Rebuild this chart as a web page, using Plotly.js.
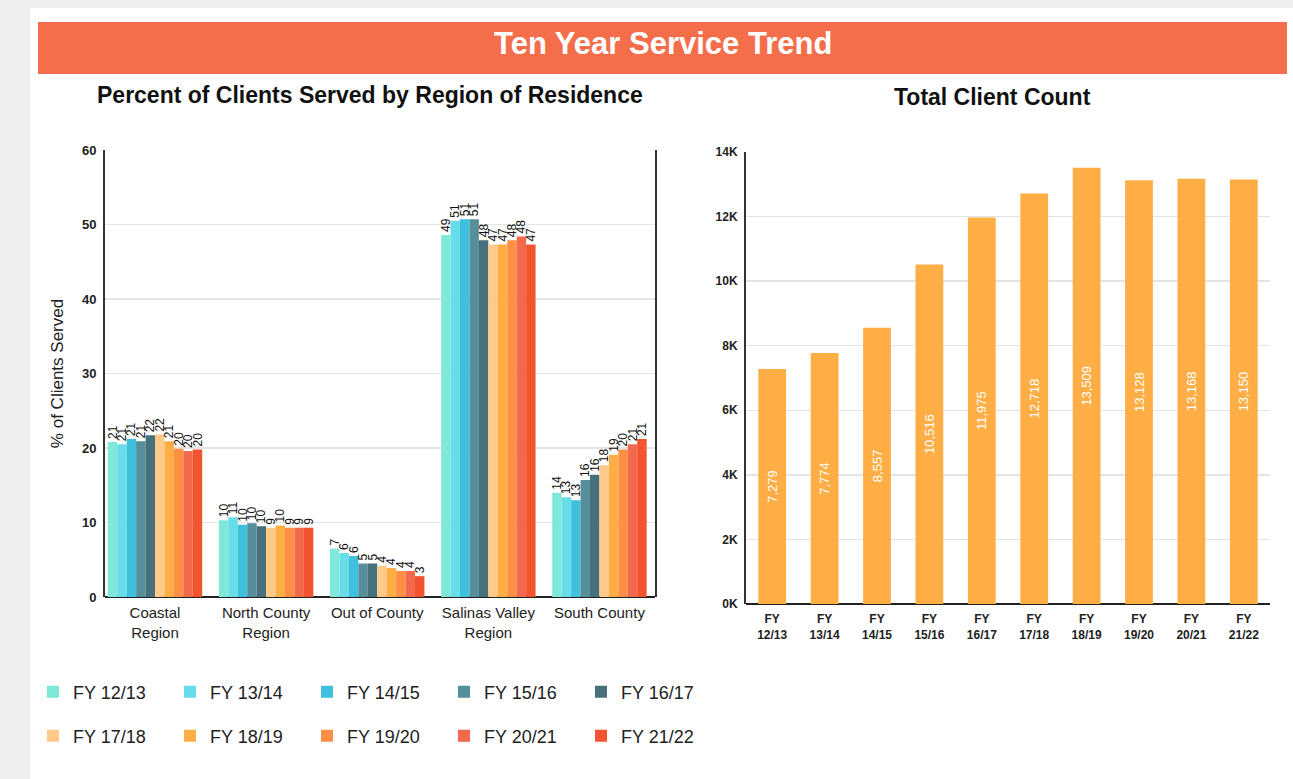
<!DOCTYPE html>
<html>
<head>
<meta charset="utf-8">
<script src="https://cdn.plot.ly/plotly-3.0.1.min.js"></script>
<style>
  html, body { margin: 0; padding: 0; background: #ffffff; }
  #chart { width: 1293px; height: 779px; }
</style>
</head>
<body>
<div id="chart"></div>
<script>
// ---- Data ----
const regions = ['Coastal<br>Region', 'North County<br>Region', 'Out of County', 'Salinas Valley<br>Region', 'South County'];
const fiscalYears = ['FY 12/13', 'FY 13/14', 'FY 14/15', 'FY 15/16', 'FY 16/17', 'FY 17/18', 'FY 18/19', 'FY 19/20', 'FY 20/21', 'FY 21/22'];
const fyTickLabels = ['FY<br>12/13', 'FY<br>13/14', 'FY<br>14/15', 'FY<br>15/16', 'FY<br>16/17', 'FY<br>17/18', 'FY<br>18/19', 'FY<br>19/20', 'FY<br>20/21', 'FY<br>21/22'];

const pct_FY1213 = [20.8, 10.3, 6.5, 48.6, 14.0];
const pct_FY1314 = [20.5, 10.7, 5.9, 50.5, 13.4];
const pct_FY1415 = [21.2, 9.7, 5.5, 50.7, 13.0];
const pct_FY1516 = [20.9, 9.9, 4.5, 50.7, 15.7];
const pct_FY1617 = [21.7, 9.5, 4.5, 47.9, 16.4];
const pct_FY1718 = [21.8, 9.3, 4.2, 47.3, 17.7];
const pct_FY1819 = [20.9, 9.6, 3.9, 47.3, 19.1];
const pct_FY1920 = [19.9, 9.3, 3.5, 47.9, 19.8];
const pct_FY2021 = [19.6, 9.3, 3.5, 48.4, 20.5];
const pct_FY2122 = [19.8, 9.3, 2.8, 47.3, 21.2];

const totalClients = [7279, 7774, 8557, 10516, 11975, 12718, 13509, 13128, 13168, 13150];

const countTickVals = [0, 2000, 4000, 6000, 8000, 10000, 12000, 14000];
const countTickText = ['0K', '2K', '4K', '6K', '8K', '10K', '12K', '14K'];

// ---- Styles ----
const seriesColors = ['#7fe8d8', '#66dde9', '#3fc0dc', '#568f99', '#46707b',
                      '#ffc98a', '#ffae45', '#ff8f45', '#f2694b', '#f25430'];
const pctSeries = [pct_FY1213, pct_FY1314, pct_FY1415, pct_FY1516, pct_FY1617,
                   pct_FY1718, pct_FY1819, pct_FY1920, pct_FY2021, pct_FY2122];

const W = 1293, H = 779;
const px = v => v / W;
const py = v => 1 - v / H;
const FONT = 'Liberation Sans, Arial, sans-serif';

const traces = pctSeries.map((vals, i) => ({
  type: 'bar',
  name: fiscalYears[i],
  x: regions,
  y: vals,
  xaxis: 'x', yaxis: 'y',
  marker: { color: seriesColors[i] },
  text: vals.map(v => Math.round(v).toString()),
  texttemplate: '%{text}',
  textposition: 'outside',
  textangle: -90,
  constraintext: 'none',
  cliponaxis: false,
  textfont: { family: FONT, size: 12, color: '#111' },
  legend: i < 5 ? 'legend' : 'legend2',
  hoverinfo: 'x+y+name'
}));

traces.push({
  type: 'bar',
  name: 'Total Client Count',
  x: fyTickLabels,
  y: totalClients,
  width: 0.53,
  xaxis: 'x2', yaxis: 'y2',
  marker: { color: '#ffae45' },
  texttemplate: '%{y:,}',
  textposition: 'inside',
  insidetextanchor: 'middle',
  textangle: -90,
  textfont: { family: FONT, size: 13, color: '#ffffff' },
  showlegend: false
});

const legendBase = {
  orientation: 'h',
  x: px(33), xanchor: 'left',
  yanchor: 'middle',
  entrywidth: 92, entrywidthmode: 'pixels',
  font: { family: FONT, size: 18, color: '#222' },
  bgcolor: 'rgba(0,0,0,0)',
  traceorder: 'normal'
};

const layout = {
  width: W, height: H,
  margin: { l: 0, r: 0, t: 0, b: 0 },
  paper_bgcolor: '#ffffff',
  plot_bgcolor: 'rgba(0,0,0,0)',
  font: { family: FONT, color: '#222' },
  barmode: 'group',
  bargap: 0.15,
  bargroupgap: 0,
  showlegend: true,
  xaxis: {
    domain: [px(105), px(655)],
    anchor: 'y',
    type: 'category',
    range: [-0.45, 4.5],
    showgrid: false,
    showline: false,
    ticks: '',
    ticklabelstandoff: 5,
    tickfont: { family: FONT, size: 15, color: '#222' },
    fixedrange: true
  },
  yaxis: {
    domain: [py(597), py(150)],
    anchor: 'x',
    range: [0, 60],
    dtick: 10,
    showgrid: true,
    gridcolor: '#e4e4e4',
    gridwidth: 1.5,
    showline: true,
    linecolor: '#333',
    linewidth: 2,
    mirror: true,
    zeroline: true,
    zerolinecolor: '#222',
    zerolinewidth: 2.5,
    ticks: '',
    ticklabelstandoff: 4,
    tickfont: { family: FONT, size: 13, color: '#222', weight: 'bold' },
    title: { text: '% of Clients Served', font: { family: FONT, size: 17, color: '#222' }, standoff: 14 },
    fixedrange: true
  },
  xaxis2: {
    domain: [px(746), px(1270)],
    anchor: 'y2',
    type: 'category',
    showgrid: false,
    showline: false,
    ticks: '',
    ticklabelstandoff: 6,
    tickfont: { family: FONT, size: 12, color: '#222', weight: 'bold' },
    fixedrange: true
  },
  yaxis2: {
    domain: [py(604), py(152)],
    anchor: 'x2',
    range: [0, 14000],
    tickvals: countTickVals,
    ticktext: countTickText,
    showgrid: true,
    gridcolor: '#e4e4e4',
    gridwidth: 1.5,
    showline: true,
    linecolor: '#333',
    linewidth: 2,
    zeroline: true,
    zerolinecolor: '#222',
    zerolinewidth: 2.5,
    ticks: '',
    ticklabelstandoff: 4,
    tickfont: { family: FONT, size: 12, color: '#222', weight: 'bold' },
    fixedrange: true
  },
  legend: Object.assign({}, legendBase, { y: py(692) }),
  legend2: Object.assign({}, legendBase, { y: py(736) }),
  shapes: [
    { type: 'rect', xref: 'paper', yref: 'paper', x0: 0, x1: 1, y0: 0, y1: 1,
      fillcolor: '#efefef', line: { width: 0 }, layer: 'below' },
    { type: 'rect', xref: 'paper', yref: 'paper', x0: px(30), x1: 1, y0: 0, y1: py(8),
      fillcolor: '#ffffff', line: { width: 0 }, layer: 'below' },
    { type: 'rect', xref: 'paper', yref: 'paper', x0: px(38), x1: px(1287), y0: py(74), y1: py(22),
      fillcolor: '#f46e4c', line: { width: 0 }, layer: 'below' }
  ],
  annotations: [
    { text: '<b>Ten Year Service Trend</b>', xref: 'paper', yref: 'paper',
      x: px(663), y: py(44), xanchor: 'center', yanchor: 'middle', showarrow: false,
      font: { family: FONT, size: 31, color: '#ffffff' } },
    { text: '<b>Percent of Clients Served by Region of Residence</b>', xref: 'paper', yref: 'paper',
      x: px(370), y: py(95), xanchor: 'center', yanchor: 'middle', showarrow: false,
      font: { family: FONT, size: 23, color: '#111' } },
    { text: '<b>Total Client Count</b>', xref: 'paper', yref: 'paper',
      x: px(992), y: py(97), xanchor: 'center', yanchor: 'middle', showarrow: false,
      font: { family: FONT, size: 23, color: '#111' } }
  ]
};

Plotly.newPlot('chart', traces, layout, { displayModeBar: false, staticPlot: true });
</script>
</body>
</html>
